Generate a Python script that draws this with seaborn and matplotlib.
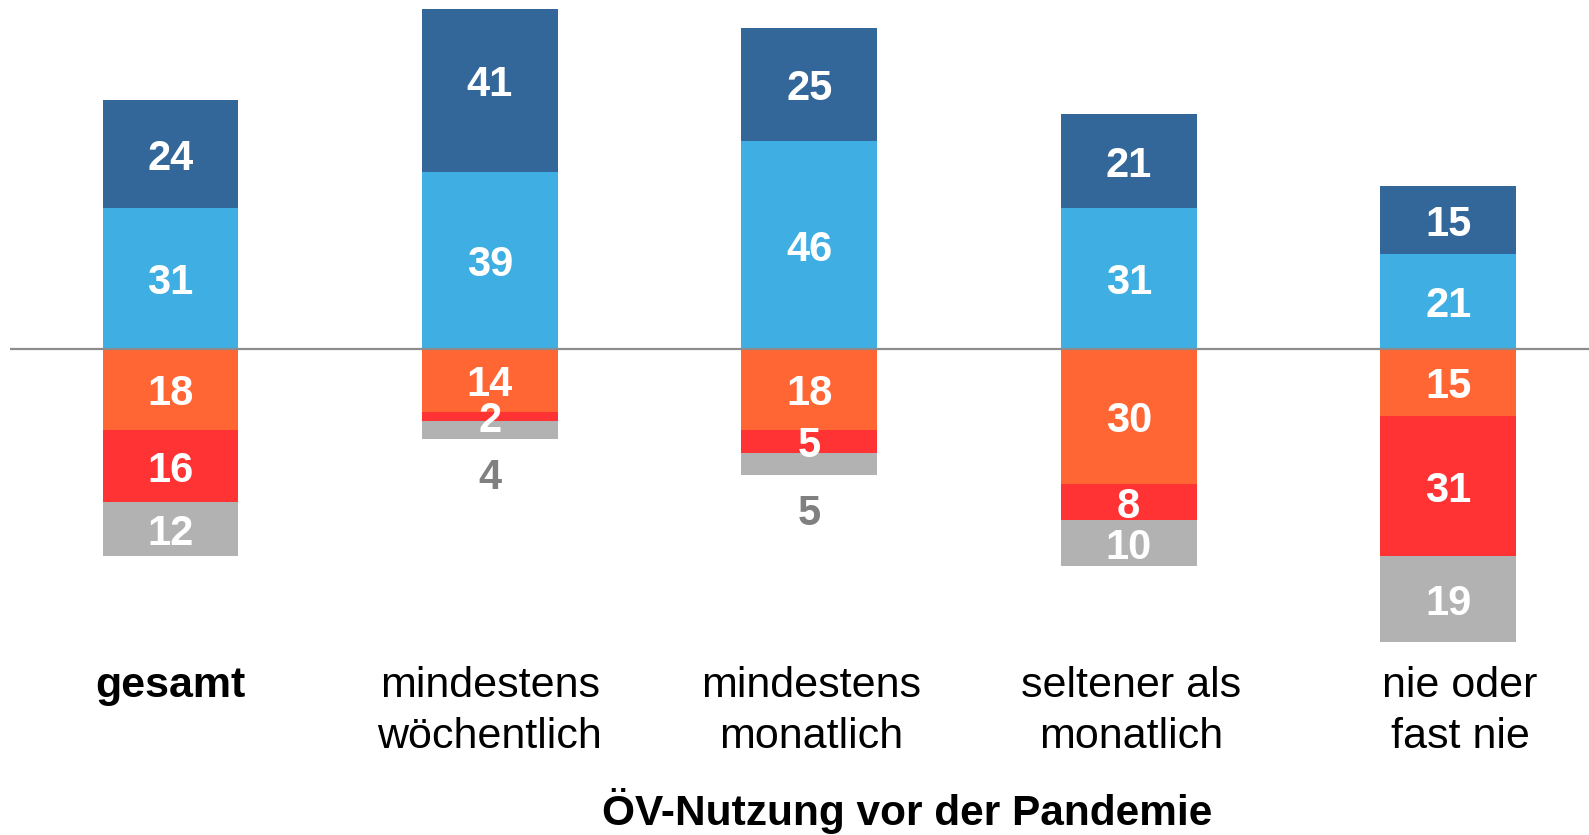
import numpy as np
import pandas as pd
import matplotlib.pyplot as plt
import seaborn as sns

categories = ["gesamt", "mindestens\nwöchentlich", "mindestens\nmonatlich", "seltener als\nmonatlich", "nie oder\nfast nie"]
dark_blue_vals = [24, 41, 25, 21, 15]
light_blue_vals = [31, 39, 46, 31, 21]
orange_vals = [18, 14, 18, 30, 15]
red_vals = [16, 2, 5, 8, 31]
gray_vals = [12, 4, 5, 10, 19]
x_title = "ÖV-Nutzung vor der Pandemie"

c_dark = "#336699"
c_light = "#3FAEE3"
c_orange = "#FF6633"
c_red = "#FF3333"
c_gray = "#B2B2B2"

sns.set_style("white")
plt.rcParams["font.family"] = ["Liberation Sans", "DejaVu Sans"]

df = pd.DataFrame({
    "cat": categories,
    "dark": dark_blue_vals,
    "light": light_blue_vals,
    "orange": orange_vals,
    "red": red_vals,
    "gray": gray_vals,
})
df["pos_top"] = df["light"] + df["dark"]
df["neg_o"] = -df["orange"]
df["neg_or"] = -(df["orange"] + df["red"])
df["neg_all"] = -(df["orange"] + df["red"] + df["gray"])

fig = plt.figure(figsize=(15.89, 8.35), dpi=100)
ax = fig.add_axes([10.1 / 1589, 0.2253, 1 - 10.1 / 1589, 0.7638])

w = 0.425
bar_kw = dict(width=w, saturation=1, linewidth=0, ax=ax)
# cumulative bars, drawn from outer to inner so the inner ones cover
sns.barplot(data=df, x="cat", y="pos_top", color=c_dark, **bar_kw)
sns.barplot(data=df, x="cat", y="light", color=c_light, **bar_kw)
sns.barplot(data=df, x="cat", y="neg_all", color=c_gray, **bar_kw)
sns.barplot(data=df, x="cat", y="neg_or", color=c_red, **bar_kw)
sns.barplot(data=df, x="cat", y="neg_o", color=c_orange, **bar_kw)

ax.axhline(0, color="#8C8C8C", lw=1.6, zorder=5)

lab_kw = dict(ha="center", va="center", color="white", fontsize=30, fontweight="bold", zorder=6)
dy = -1.1  # text center sits a bit high otherwise
for i, row in df.iterrows():
    ax.text(i, row["light"] + row["dark"] / 2 + dy, str(row["dark"]), **lab_kw)
    ax.text(i, row["light"] / 2 + dy, str(row["light"]), **lab_kw)
    ax.text(i, -row["orange"] / 2 + dy, str(row["orange"]), **lab_kw)
    ax.text(i, -row["orange"] - row["red"] / 2 + dy, str(row["red"]), **lab_kw)
    if row["gray"] >= 8:
        ax.text(i, -row["orange"] - row["red"] - row["gray"] / 2 + dy, str(row["gray"]), **lab_kw)
    else:
        lk = dict(lab_kw)
        lk["color"] = "#808080"
        ax.text(i, row["neg_all"] - 7.5 + dy, str(row["gray"]), **lk)

ax.set_xlim(-0.502, 4.441)
ax.set_ylim(-66, 75.1)
ax.set_xticks(range(len(categories)))
ax.set_xticklabels([])
ax.tick_params(axis="x", length=0)
ax.set_yticks([])
ax.set_xlabel("")
ax.set_ylabel("")
sns.despine(ax=ax, left=True, bottom=True)

# category labels below the bars
tick_shift = [0, 0, 2, 2, 12]
for i, lab in enumerate(categories):
    ax.annotate(lab, xy=(i, 0), xycoords=("data", "axes fraction"),
                xytext=(tick_shift[i] * 0.72, -14), textcoords="offset points",
                ha="center", va="top", fontsize=31, color="black", linespacing=1.34,
                fontweight="bold" if i == 0 else "normal", annotation_clip=False)

fig.text(895 * 1589 / 1568 / 1589, 0.029, x_title, ha="center", va="center",
         fontsize=30.5, fontweight="bold", color="black")

fig.savefig("out.png", dpi=100)
